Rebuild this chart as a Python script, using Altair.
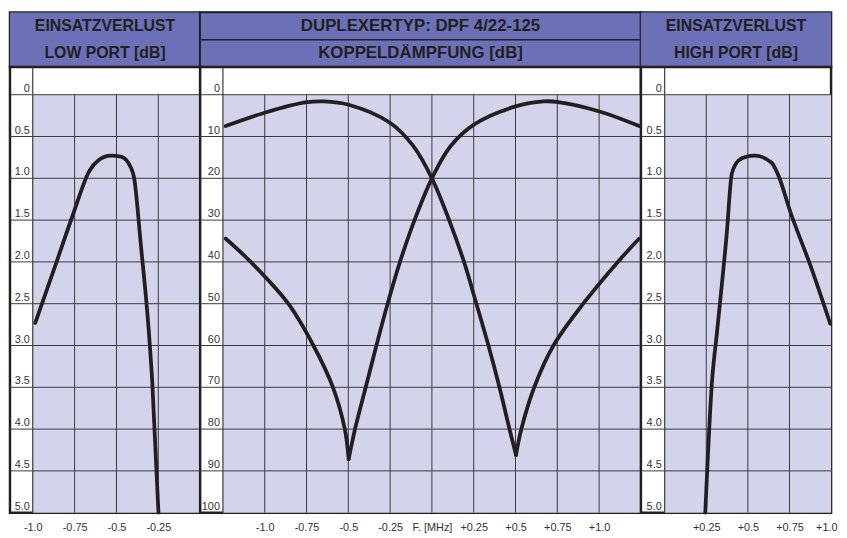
import altair as alt
import pandas as pd

# ---------------- data ----------------
# Insertion loss, low port  (F in MHz, loss in dB)
low_f = [-0.985, -0.868, -0.759, -0.661, -0.611, -0.533, -0.473, -0.414, -0.395, -0.355, -0.306, -0.286, -0.249]
low_db = [2.73, 2.06, 1.43, 0.91, 0.79, 0.73, 0.74, 0.87, 0.99, 1.78, 2.85, 3.44, 5.0]

# Insertion loss, high port
high_f = [0.244, 0.284, 0.314, 0.373, 0.403, 0.442, 0.492, 0.542, 0.641, 0.68, 0.76, 0.879, 0.995]
high_db = [5.0, 3.44, 2.85, 1.66, 0.95, 0.79, 0.74, 0.73, 0.81, 0.95, 1.43, 2.06, 2.74]

# Coupling attenuation curve A (two pieces meeting at the notch)
a1_f = [-1.234, -1.0, -0.748, -0.646, -0.498, -0.251, -0.113, 0.0, 0.103, 0.192, 0.266, 0.338, 0.404, 0.464, 0.503]
a1_db = [7.5, 4.3, 1.8, 1.6, 2.4, 6.7, 12.2, 20.0, 30.0, 40.0, 50.0, 60.0, 70.0, 80.0, 86.2]
a2_f = [0.503, 0.535, 0.612, 0.727, 0.905, 1.112, 1.24]
a2_db = [86.2, 80.0, 70.0, 60.0, 50.0, 40.0, 34.4]

# Coupling attenuation curve B
b1_f = [-1.234, -1.084, -0.859, -0.709, -0.592, -0.521, -0.498]
b1_db = [34.4, 40.0, 50.0, 60.0, 70.0, 80.0, 87.2]
b2_f = [-0.498, -0.46, -0.396, -0.332, -0.265, -0.191, -0.104, 0.0, 0.11, 0.253, 0.5, 0.668, 0.746, 1.003, 1.24]
b2_db = [87.2, 80.0, 70.0, 60.0, 50.0, 40.0, 30.0, 20.0, 12.4, 7.1, 2.8, 1.6, 1.7, 4.0, 7.5]

loss_ticks = [0, 0.5, 1.0, 1.5, 2.0, 2.5, 3.0, 3.5, 4.0, 4.5, 5.0]
loss_labels = ["0", "0.5", "1.0", "1.5", "2.0", "2.5", "3.0", "3.5", "4.0", "4.5", "5.0"]
coup_ticks = [0, 10, 20, 30, 40, 50, 60, 70, 80, 90, 100]
coup_labels = ["0", "10", "20", "30", "40", "50", "60", "70", "80", "90", "100"]

low_fticks = [-1.0, -0.75, -0.5, -0.25]
low_flabels = ["-1.0", "-0.75", "-0.5", "-0.25"]
mid_fticks = [-1.0, -0.75, -0.5, -0.25, 0.0, 0.25, 0.5, 0.75, 1.0]
mid_flabels = ["-1.0", "-0.75", "-0.5", "-0.25", "F. [MHz]", "+0.25", "+0.5", "+0.75", "+1.0"]
high_fticks = [0.25, 0.5, 0.75, 1.0]
high_flabels = ["+0.25", "+0.5", "+0.75", "+1.0"]

hdr_left = ["EINSATZVERLUST", "LOW PORT [dB]"]
hdr_mid = ["DUPLEXERTYP: DPF 4/22-125", "KOPPELDÄMPFUNG [dB]"]
hdr_right = ["EINSATZVERLUST", "HIGH PORT [dB]"]

# ---------------- style / layout ----------------
FONT = "Liberation Sans"
PURPLE = "#6c70b7"
LAV = "#d3d3eb"
DARK = "#231f20"
GRID = "#3a3a3a"
TXT = "#333333"
H_HEAD = 55
H_BODY = 450
TOP_BAND = 28


def label_expr(ticks, labels):
    parts = [f"abs(datum.value - ({t})) < 1e-6 ? '{l}'" for t, l in zip(ticks, labels)]
    return " : ".join(parts) + " : ''"


def header(lines, W, divided, size):
    df = pd.DataFrame({"row": [0, 1], "label": lines})
    ys = alt.Y("row:O", axis=None, scale=alt.Scale(paddingInner=0, paddingOuter=0))
    if divided:
        bg = alt.Chart(df).mark_rect(fill=PURPLE, stroke=DARK, strokeWidth=1.5).encode(
            y=ys, x=alt.value(0), x2=alt.value(W))
    else:
        bg = alt.Chart(df.head(1)).mark_rect(fill=PURPLE).encode(
            x=alt.value(0), x2=alt.value(W), y=alt.value(0), y2=alt.value(H_HEAD))
    txt = alt.Chart(df).mark_text(font=FONT, fontSize=size, fontWeight="bold", color=DARK).encode(
        y=ys, x=alt.value(W / 2), text="label:N")
    return alt.layer(bg, txt).properties(width=W, height=H_HEAD)


def body(x0, x1, plot_w, col_w, grid_x, y_max, y_ticks, y_labels, f_ticks, f_labels, segs,
         interp="monotone", flush=False):
    upx = (x1 - x0) / plot_w
    xmin = x0 - col_w * upx
    upy = y_max / (H_BODY - TOP_BAND)
    ymin = -TOP_BAND * upy
    W = plot_w + col_w
    xs = alt.Scale(domain=[xmin, x1], nice=False, zero=False)
    ys = alt.Scale(domain=[ymin, y_max], reverse=True, nice=False, zero=False)
    ax = dict(values=f_ticks, labelExpr=label_expr(f_ticks, f_labels), domain=False, ticks=False,
              grid=False, labelPadding=9, labelFont=FONT, labelFontSize=11, labelColor=TXT,
              labelOverlap=False, title=None)
    if flush:
        ax.update(labelFlush=1, labelFlushOffset=6)
    else:
        ax.update(labelFlush=False)
    xaxis = alt.Axis(**ax)

    def X(f):
        return alt.X(f, type="quantitative", scale=xs, axis=xaxis)

    def Y(f):
        return alt.Y(f, type="quantitative", scale=ys, axis=None)

    band = pd.DataFrame({"x": [x0], "x2": [x1], "y": [0], "y2": [y_max]})
    shade = alt.Chart(band).mark_rect(color=LAV).encode(x=X("x"), x2="x2", y=Y("y"), y2="y2")
    hgrid = alt.Chart(pd.DataFrame({"y": y_ticks[:-1]})).mark_rule(color=GRID, strokeWidth=1).encode(y=Y("y"))
    vg = pd.DataFrame({"x": grid_x, "y": [0] * len(grid_x), "y2": [y_max] * len(grid_x)})
    vgrid = alt.Chart(vg).mark_rule(color=GRID, strokeWidth=1).encode(x=X("x"), y=Y("y"), y2="y2")
    colb = alt.Chart(pd.DataFrame({"x": [x0]})).mark_rule(color=GRID, strokeWidth=1.2).encode(x=X("x"))
    lab = pd.DataFrame({"x": [x0] * len(y_ticks), "y": y_ticks, "t": y_labels})
    ylab = alt.Chart(lab).mark_text(align="right", baseline="bottom", dx=-3, dy=-1, font=FONT,
                                    fontSize=11, color=TXT).encode(x=X("x"), y=Y("y"), text="t:N")
    rows = []
    for i, (fs, vs) in enumerate(segs):
        for f, v in zip(fs, vs):
            rows.append({"seg": i, "f": f, "v": v})
    cdf = pd.DataFrame(rows)
    curves = alt.Chart(cdf).mark_line(interpolate=interp, strokeWidth=3.8, color=DARK,
                                      strokeCap="round", strokeJoin="round").encode(
        x=X("f"), y=Y("v"), detail="seg:N")
    return alt.layer(shade, hgrid, vgrid, colb, ylab, curves).properties(width=W, height=H_BODY)


bL = body(-1.0, 0.0, 169, 23, [-0.75, -0.5, -0.25], 5.0, loss_ticks, loss_labels,
          low_fticks, low_flabels, [(low_f, low_db)])
bM = body(-1.25, 1.25, 422, 23, [-1.0, -0.75, -0.5, -0.25, 0.0, 0.25, 0.5, 0.75, 1.0], 100,
          coup_ticks, coup_labels, mid_fticks, mid_flabels,
          [(a1_f, a1_db), (a2_f, a2_db), (b1_f, b1_db), (b2_f, b2_db)], interp="catmull-rom")
bR = body(0.0, 1.0, 168, 24, [0.25, 0.5, 0.75], 5.0, loss_ticks, loss_labels,
          high_fticks, high_flabels, [(high_f, high_db)], flush=True)

hL = header(hdr_left, 192, False, 16)
hM = header(hdr_mid, 445, True, 17)
hR = header(hdr_right, 192, False, 16)

chart = alt.concat(hL, hM, hR, bL, bM, bR, columns=3, spacing=0, bounds="flush").properties(
    padding=0).configure_view(stroke=DARK, strokeWidth=2.5, fill="white")

chart.save("out.html", embed_options={"renderer": "svg", "actions": False})
